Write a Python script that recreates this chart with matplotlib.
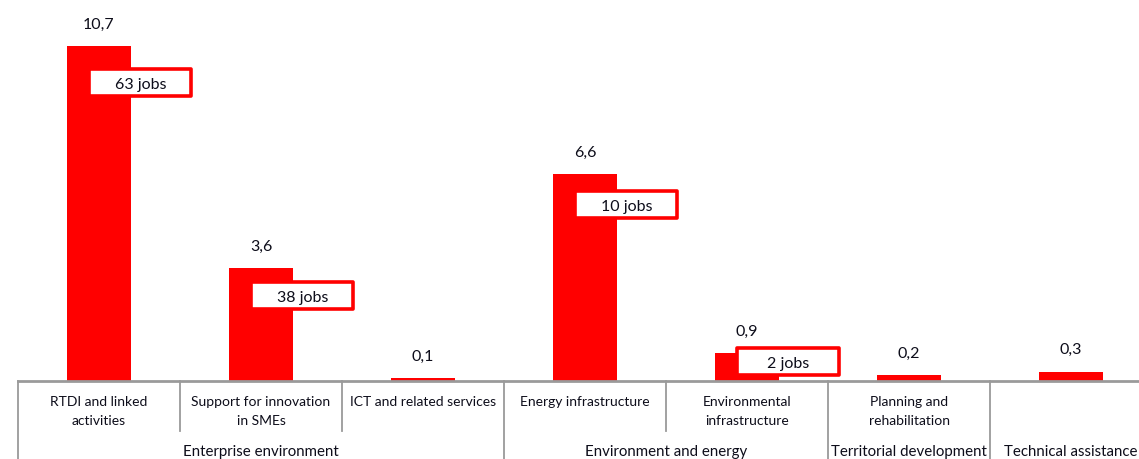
import matplotlib
matplotlib.use("Agg")
import matplotlib.pyplot as plt
from matplotlib.patches import Rectangle

plt.rcParams['font.family'] = ['Lato', 'DejaVu Sans']

# ---- data ----
categories = ["RTDI and linked\nactivities", "Support for innovation\nin SMEs",
              "ICT and related services", "Energy infrastructure",
              "Environmental\ninfrastructure", "Planning and\nrehabilitation", ""]
values = [10.7, 3.6, 0.1, 6.6, 0.9, 0.2, 0.3]
value_labels = ["10,7", "3,6", "0,1", "6,6", "0,9", "0,2", "0,3"]
job_idx = [0, 1, 3, 4]
job_labels = ["63 jobs", "38 jobs", "10 jobs", "2 jobs"]
job_box_y = [9.55, 2.72, 5.65, 0.63]   # vertical centre of each job box (data units)
groups = ["Enterprise environment", "Environment and energy",
          "Territorial development", "Technical assistance"]
group_spans = [(0, 2), (3, 4), (5, 5), (6, 6)]

W, H = 1139, 460
fig = plt.figure(figsize=(W / 100, H / 100), dpi=100)
# axes spans x 18..1152 px (7 categories of 162 px), baseline at y=382
ax = fig.add_axes([18 / W, (H - 382) / H, 1134 / W, 382 / H])
ax.set_xlim(-0.5, 6.5)
ax.set_ylim(0, 382 / 31.3)
for s in ax.spines.values():
    s.set_visible(False)
ax.set_xticks([])
ax.set_yticks([])

red = "#FF0000"
txtc = "#0d0d1a"
x = list(range(len(values)))
ax.bar(x, values, width=0.4, color=red, zorder=2)

for xi, v, lab in zip(x, values, value_labels):
    ax.annotate(lab, (xi, v), xytext=(0, 11), textcoords="offset points",
                ha="center", va="bottom", fontsize=11.5, color=txtc)

bw = 102 / 162
bh = 27 / 31.3
for i, lab, yc in zip(job_idx, job_labels, job_box_y):
    left = i - 0.06
    ax.add_patch(Rectangle((left, yc - bh / 2), bw, bh, facecolor="white",
                           edgecolor=red, linewidth=2.6, zorder=3,
                           joinstyle="round"))
    ax.text(left + bw / 2, yc - 0.05, lab, ha="center", va="center", fontsize=11.5,
            color=txtc, zorder=4)

# ---- category table below the axis ----
def fx(data_x):
    return (18 + (data_x + 0.5) * 162) / W

def fy(py):
    return 1 - py / H

lc = "#9a9a9a"
fig.add_artist(plt.Line2D([18 / W, 1], [fy(382), fy(382)], color=lc, lw=2,
                          transform=fig.transFigure))
# group boundaries (full height)
for b in [-0.5, 2.5, 4.5, 5.5]:
    fig.add_artist(plt.Line2D([fx(b), fx(b)], [fy(382), 0], color=lc, lw=1.3,
                              transform=fig.transFigure))
# inner dividers
for b in [0.5, 1.5, 3.5]:
    fig.add_artist(plt.Line2D([fx(b), fx(b)], [fy(382), fy(432)], color=lc, lw=1.3,
                              transform=fig.transFigure))

for xi, c in zip(x, categories):
    fig.text(fx(xi), fy(396), c, ha="center", va="top", fontsize=10,
             color=txtc, linespacing=1.75)

for g, (a, b) in zip(groups, group_spans):
    fig.text(fx((a + b) / 2), fy(452), g, ha="center", va="center",
             fontsize=10.8, color=txtc)

fig.savefig("out.png", dpi=100)
